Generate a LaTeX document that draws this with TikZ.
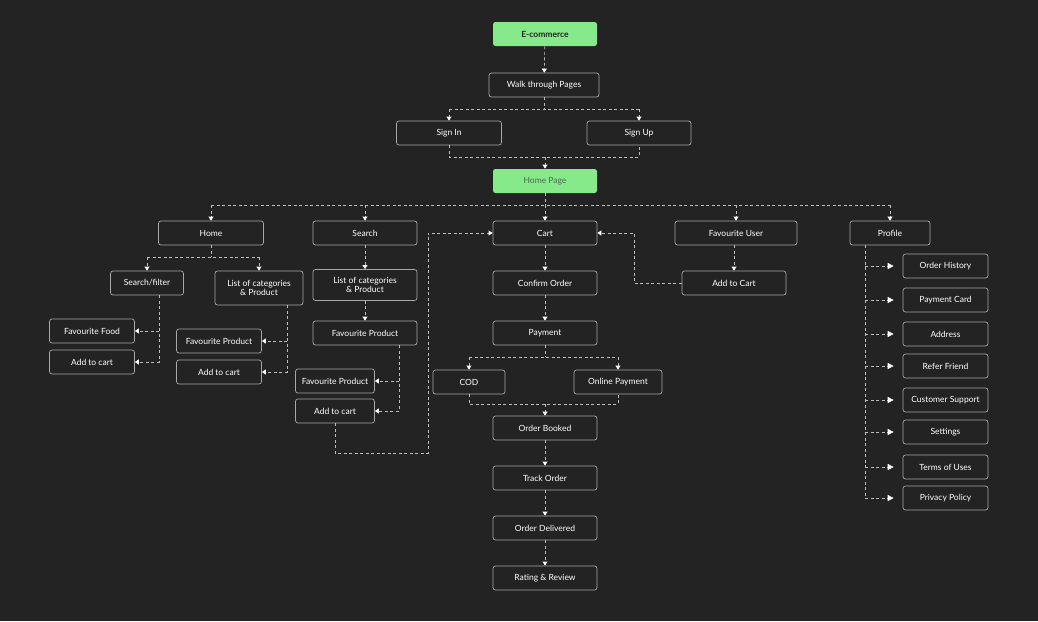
\documentclass[tikz,border=0pt]{standalone}
\usepackage{fontspec}
\setmainfont{Lato}
\usepackage{tikz}
\usetikzlibrary{arrows.meta}
\definecolor{bgdark}{HTML}{232323}
\definecolor{boxgrey}{HTML}{A8A8A8}
\definecolor{linkgrey}{HTML}{BDBDBD}
\definecolor{startgreen}{HTML}{86E98A}
\definecolor{homegreen}{HTML}{4A6B4C}

\begin{document}
\begin{tikzpicture}[x=1pt,y=-1pt,
  box/.style={rectangle,draw=boxgrey,line width=0.7pt,rounded corners=2.5pt,fill=bgdark,text=white,minimum height=24pt,inner sep=1pt,align=center,font=\fontsize{8.5}{9.5}\selectfont},
  start/.style={box,draw=none,fill=startgreen},
  link/.style={draw=linkgrey,line width=0.7pt,dash pattern=on 3pt off 2.5pt},
  tip/.style={-{Triangle[width=5pt,length=4pt,color=white]}},
  bigtip/.style={-{Triangle[width=6pt,length=6pt,color=white]}}]
\useasboundingbox (0,0) rectangle (1038,621);
\fill[bgdark] (0,0) rectangle (1038,621);

\node[start,minimum width=104pt,text=bgdark,font=\fontsize{8.5}{9.5}\selectfont\bfseries] (ecom) at (545,34) {E-commerce};
\node[box,minimum width=110pt] (walk) at (544,85) {Walk through Pages};
\node[box,minimum width=105pt] (signin) at (449,133) {Sign In};
\node[box,minimum width=104pt] (signup) at (639,133) {Sign Up};
\node[start,minimum width=104pt,text=homegreen] (homepage) at (545,181) {Home Page};

\node[box,minimum width=105pt] (home) at (211,233) {Home};
\node[box,minimum width=104pt] (search) at (365,233) {Search};
\node[box,minimum width=104pt] (cart) at (545,233) {Cart};
\node[box,minimum width=122pt] (favuser) at (736,233) {Favourite User};
\node[box,minimum width=80pt] (profile) at (890,233) {Profile};

\node[box,minimum width=73pt] (sfilter) at (147,283) {Search/filter};
\node[box,minimum width=88pt,minimum height=34pt] (catA) at (259,288) {List of categories\\\& Product};
\node[box,minimum width=85pt] (favfood) at (92,331) {Favourite Food};
\node[box,minimum width=85pt] (addA) at (92,362) {Add to cart};
\node[box,minimum width=85pt] (favprodA) at (219,341) {Favourite Product};
\node[box,minimum width=85pt] (addB) at (219,372) {Add to cart};

\node[box,minimum width=104pt,minimum height=31pt] (catB) at (365,285) {List of categories\\\& Product};
\node[box,minimum width=104pt] (favprodB) at (365,333) {Favourite Product};
\node[box,minimum width=79pt] (favprodC) at (335,381) {Favourite Product};
\node[box,minimum width=79pt] (addC) at (335,411) {Add to cart};

\node[box,minimum width=104pt] (confirm) at (545,283) {Confirm Order};
\node[box,minimum width=104pt] (payment) at (545,333) {Payment};
\node[box,minimum width=72pt] (cod) at (469,382) {COD};
\node[box,minimum width=88pt] (online) at (618,382) {Online Payment};
\node[box,minimum width=104pt] (booked) at (545,428) {Order Booked};
\node[box,minimum width=104pt] (track) at (545,478) {Track Order};
\node[box,minimum width=104pt] (delivered) at (545,528) {Order Delivered};
\node[box,minimum width=104pt] (rating) at (545,578) {Rating \& Review};
\node[box,minimum width=104pt] (addcart) at (734,283) {Add to Cart};

\foreach \y/\n/\t in {266/ohist/Order History,300/pcard/Payment Card,334/address/Address,366/refer/Refer Friend,400/support/Customer Support,432/settings/Settings,467/terms/Terms of Uses,498/privacy/Privacy Policy}
  \node[box,minimum width=85pt] (\n) at (945.5,\y) {\t};

\coordinate (splitA) at (544,109);
\coordinate (joinA) at (545,157);
\coordinate (splitB) at (545,205);
\coordinate (splitC) at (211,257);
\coordinate (sfdrop) at ([xshift=12pt]sfilter.south);
\coordinate (cadrop) at ([xshift=28pt]catA.south);
\coordinate (fpdrop) at ([xshift=34pt]favprodB.south);
\coordinate (loopL) at (428,453);
\coordinate (loopR) at (634,283);
\coordinate (splitD) at (545,357);
\coordinate (joinB) at (545,404);
\coordinate (pdrop) at ([xshift=-25pt]profile.south);

\draw[link,tip] (ecom) -- (walk);
\draw[link] (walk) -- (splitA);
\draw[link] (signin.north |- splitA) -- (signup.north |- splitA);
\draw[link,tip] (signin.north |- splitA) -- (signin);
\draw[link,tip] (signup.north |- splitA) -- (signup);
\draw[link] (signin.south) |- (joinA) -| (signup.south);
\draw[link,tip] (joinA) -- (homepage);

\draw[link] (homepage) -- (splitB);
\draw[link] (home.north |- splitB) -- (profile.north |- splitB);
\foreach \n in {home,search,cart,favuser,profile}
  \draw[link,tip] (\n.north |- splitB) -- (\n.north);

\draw[link] (home) -- (splitC);
\draw[link] (sfilter.north |- splitC) -- (catA.north |- splitC);
\draw[link,tip] (sfilter.north |- splitC) -- (sfilter);
\draw[link,tip] (catA.north |- splitC) -- (catA);
\draw[link,tip] (sfdrop) |- (addA);
\draw[link,tip] (sfdrop |- favfood) -- (favfood);
\draw[link,tip] (cadrop) |- (addB);
\draw[link,tip] (cadrop |- favprodA) -- (favprodA);

\draw[link,tip] (search) -- (catB);
\draw[link,tip] (catB) -- (favprodB);
\draw[link,tip] (fpdrop) |- (addC);
\draw[link,tip] (fpdrop |- favprodC) -- (favprodC);
\draw[link,tip] (addC.south) |- (loopL) |- (cart);

\draw[link,tip] (cart) -- (confirm);
\draw[link,tip] (confirm) -- (payment);
\draw[link] (payment) -- (splitD);
\draw[link] (cod.north |- splitD) -- (online.north |- splitD);
\draw[link,tip] (cod.north |- splitD) -- (cod);
\draw[link,tip] (online.north |- splitD) -- (online);
\draw[link] (cod.south) |- (joinB) -| (online.south);
\draw[link,tip] (joinB) -- (booked);
\draw[link,tip] (booked) -- (track);
\draw[link,tip] (track) -- (delivered);
\draw[link,tip] (delivered) -- (rating);

\draw[link,tip] (favuser.south -| addcart.north) -- (addcart.north);
\draw[link,tip] (addcart) -- (loopR) |- (cart);

\draw[link] (pdrop) -- (pdrop |- privacy);
\foreach \n in {ohist,pcard,address,refer,support,settings,terms,privacy}
  \draw[link,bigtip,shorten >=9pt] (pdrop |- \n) -- (\n);
\end{tikzpicture}
\end{document}
